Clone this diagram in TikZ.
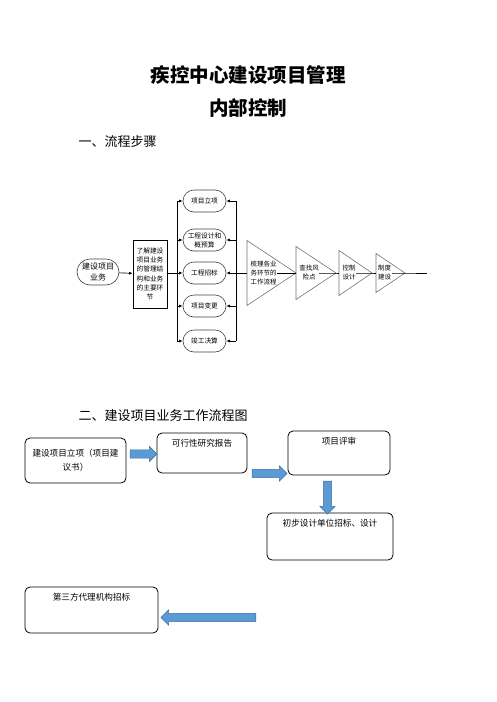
\documentclass[tikz,border=0pt]{standalone}
\usepackage{fontspec}
\setmainfont{Noto Sans CJK SC}
\usetikzlibrary{arrows.meta,shapes.misc,shapes.arrows}

\definecolor{arrowblue}{HTML}{5B9BD5}
\definecolor{arrowedge}{HTML}{41719C}

\tikzset{
	stad/.style={rounded rectangle,draw=black!75,line width=0.6pt,align=center,inner sep=1pt,font=\fontsize{6.7}{9}\selectfont},
	stepbox/.style={draw,line width=0.7pt,align=center,inner sep=0pt,font=\fontsize{6.7}{9.3}\selectfont},
	tri/.style={draw=black!55,line width=0.6pt},
	trilab/.style={align=center,inner sep=0.5pt,font=\fontsize{6.5}{9.3}\selectfont},
	arr/.style={-{Latex[length=3.5pt,width=3pt]},line width=0.7pt},
	box/.style={draw,rounded corners=5pt,line width=0.8pt,align=center,inner sep=0pt,font=\fontsize{8.6}{14}\selectfont},
	toplab/.style={anchor=north,inner sep=0pt,yshift=-6pt,font=\fontsize{8.6}{12}\selectfont},
	blockarrow/.style={single arrow,fill=arrowblue,draw=arrowedge,line width=0.5pt,inner xsep=0pt,inner ysep=3.8pt,single arrow head extend=3.5pt}
}

\begin{document}
\begin{tikzpicture}[x=1pt,y=-1pt]
	\useasboundingbox (0,0) rectangle (496,702);
	
	%Headings
	\node[font=\fontsize{19.5}{22}\selectfont\bfseries] (title) at (248,75) {疾控中心建设项目管理};
	\node[font=\fontsize{19.5}{22}\selectfont\bfseries] (subtitle) at (248,108) {内部控制};
	\node[anchor=west,font=\fontsize{13}{15}\selectfont] (sec1) at (75,142) {一、流程步骤};
	\node[anchor=west,font=\fontsize{13}{15}\selectfont] (sec2) at (75,416) {二、建设项目业务工作流程图};
	
	%Part one: business and its main links
	\node[stad,minimum width=44,minimum height=26,font=\fontsize{8}{10.5}\selectfont] (biz) at (98,272) {建设项目\\业务};
	\node[stepbox,minimum width=34,minimum height=68] (learn) at (150,274) {了解建设\\项目业务\\的管理结\\构和业务\\的主要环\\节};
	\foreach \n/\y/\t in {1/201/项目立项,2/240/{工程设计和\\概预算},3/273/工程招标,4/306/项目变更,5/341/竣工决算}
		\node[stad,minimum width=45,minimum height=22] (st\n) at (204.5,\y) {\t};
	
	%Bars left and right of the links
	\coordinate (lbar) at (177,273);
	\coordinate (rbar) at (236,273);
	\draw[line width=0.7pt] (lbar |- st1.west) -- (lbar |- st5.west);
	\draw[line width=0.7pt] (rbar |- st1.east) -- (rbar |- st5.east);
	\foreach \n in {1,...,5}{
		\draw[arr] (lbar |- st\n.west) -- (st\n.west);
		\draw[arr] (rbar |- st\n.east) -- (st\n.east);
	}
	\draw[arr] (biz) -- (learn);
	\draw[line width=0.7pt] (learn.east |- lbar) -- (lbar);
	
	%Triangles of the work steps
	\foreach \n/\x/\w/\h in {1/247/49/65,2/296/40/53,3/339/33/45,4/376/29/39}{
		\draw[tri] (\x,273-\h/2) -- ++(\w,\h/2) coordinate (t\n p) -- (\x,273+\h/2) -- cycle;
		\coordinate (t\n w) at (\x,273);
	}
	\node[trilab] (l1) at (263.5,273) {梳理各业\\务环节的\\工作流程};
	\node[trilab] (l2) at (309,272.5) {查找风\\险点};
	\node[trilab] (l3) at (349,272.5) {控制\\设计};
	\node[trilab] (l4) at (384.5,272.5) {制度\\建设};
	\coordinate (tend) at (427,273);
	
	%Line through the triangles
	\draw[line width=0.7pt] (rbar) -- (t1w);
	\draw[line width=0.7pt] (l1.east) -- (t1p) -- (t2w);
	\draw[line width=0.7pt] (l2.east |- t2p) -- (t2p) -- (t3w);
	\draw[line width=0.7pt] (l3.east |- t3p) -- (t3p) -- (t4w);
	\draw[line width=0.7pt] (l4.east |- t4p) -- (t4p) -- (tend);
	
	%Part two: work flow of a project
	\node[box,minimum width=101,minimum height=45] (setup) at (75.5,460.5) {建设项目立项（项目建\\议书）};
	\node[box,minimum width=90,minimum height=40,label={[toplab]north:可行性研究报告}] (study) at (202,453) {};
	\node[box,minimum width=102,minimum height=44,label={[toplab]north:项目评审}] (review) at (339,453) {};
	\node[box,minimum width=126,minimum height=47,label={[toplab]north:初步设计单位招标、设计}] (design) at (330,536.5) {};
	\node[box,minimum width=133,minimum height=46,label={[toplab]north:第三方代理机构招标}] (agent) at (91.5,610) {};
	
	%Block arrows
	\node[blockarrow,minimum height=27] (a1) at (141.5,454) {};
	\node[blockarrow,minimum height=35] (a2) at (267.5,473.5) {};
	\node[blockarrow,minimum height=33,rotate=-90] (a3) at (327.5,495.5) {};
	\node[blockarrow,minimum height=95,rotate=180] (a4) at (210.5,617.5) {};
\end{tikzpicture}
\end{document}
